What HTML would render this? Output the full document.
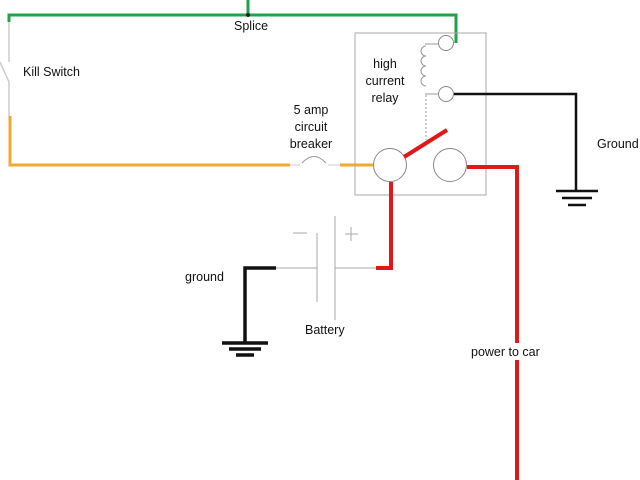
<!DOCTYPE html>
<html><head><style>body{margin:0;background:#fff}svg{display:block}text{font-family:"Liberation Sans",sans-serif;font-size:12.5px;fill:#111}</style></head><body>
<svg width="640" height="480" viewBox="0 0 640 480">
<g fill="none" stroke-linecap="butt">
<polyline points="9,22 9,15 456,15 456,43" stroke="#1fa34a" stroke-width="3"/>
<line x1="248" y1="0" x2="248" y2="15" stroke="#1fa34a" stroke-width="3"/>
<circle cx="248" cy="15" r="2" fill="#222" stroke="none"/>
<line x1="9" y1="22" x2="9" y2="62" stroke="#ccc" stroke-width="1.5"/>
<line x1="0" y1="62" x2="9" y2="82" stroke="#ccc" stroke-width="1.5"/>
<line x1="9" y1="82" x2="9" y2="116" stroke="#ccc" stroke-width="1.5"/>
<polyline points="10,116 10,165 290,165" stroke="#f0a830" stroke-width="3"/>
<path d="M302,163 Q314,150 326,163" stroke="#999" stroke-width="1"/>
<line x1="290" y1="165" x2="300" y2="165" stroke="#ccc"/>
<line x1="328" y1="165" x2="340" y2="165" stroke="#ccc"/>
<line x1="340" y1="165" x2="373" y2="165" stroke="#f0a830" stroke-width="3"/>
<rect x="355" y="33" width="131" height="162" stroke="#aaa" stroke-width="1"/>
<circle cx="446" cy="43" r="7.5" stroke="#888"/>
<circle cx="446" cy="94" r="7.5" stroke="#888"/>
<line x1="425" y1="44" x2="438" y2="44" stroke="#999"/>
<line x1="425" y1="94" x2="438" y2="94" stroke="#999"/>
<path d="M426,46 a5,5 0 0 0 0,10 a5,5 0 0 0 0,10 a5,5 0 0 0 0,10 a5,5 0 0 0 0,10" stroke="#999"/>
<line x1="426" y1="95" x2="426" y2="140" stroke="#999" stroke-dasharray="2,2"/>
<circle cx="390" cy="165" r="16.5" stroke="#888"/>
<circle cx="450" cy="165" r="16.5" stroke="#888"/>
<line x1="404" y1="157" x2="447" y2="130" stroke="#e01818" stroke-width="4"/>
<polyline points="454,94 576,94 576,191" stroke="#111" stroke-width="2.5"/>
<line x1="556" y1="191" x2="598" y2="191" stroke="#111" stroke-width="2.5"/>
<line x1="562" y1="198" x2="592" y2="198" stroke="#111" stroke-width="2.5"/>
<line x1="568" y1="205" x2="586" y2="205" stroke="#111" stroke-width="2.5"/>
<polyline points="467,167 517,167 517,480" stroke="#e01818" stroke-width="4"/>
<polyline points="391,182 391,268 376,268" stroke="#e01818" stroke-width="4"/>
<line x1="276" y1="268" x2="317" y2="268" stroke="#aaa"/>
<line x1="335" y1="268" x2="376" y2="268" stroke="#aaa"/>
<line x1="317" y1="233" x2="317" y2="302" stroke="#aaa"/>
<line x1="335" y1="216" x2="335" y2="320" stroke="#aaa"/>
<line x1="293" y1="233" x2="307" y2="233" stroke="#aaa"/>
<line x1="345" y1="234" x2="358" y2="234" stroke="#aaa"/>
<line x1="351" y1="227" x2="351" y2="241" stroke="#aaa"/>
<polyline points="276,268 245,268 245,343" stroke="#111" stroke-width="3.5"/>
<line x1="222" y1="343" x2="268" y2="343" stroke="#111" stroke-width="3.5"/>
<line x1="229" y1="349" x2="261" y2="349" stroke="#111" stroke-width="3.5"/>
<line x1="236" y1="355" x2="254" y2="355" stroke="#111" stroke-width="3.5"/>
</g>
<rect x="505" y="343" width="24" height="17" fill="#fff"/>
<text x="234" y="30">Splice</text>
<text x="23" y="76">Kill Switch</text>
<text x="385" y="68" text-anchor="middle">high</text>
<text x="385" y="85" text-anchor="middle">current</text>
<text x="385" y="102" text-anchor="middle">relay</text>
<text x="311" y="114" text-anchor="middle">5 amp</text>
<text x="311" y="131" text-anchor="middle">circuit</text>
<text x="311" y="148" text-anchor="middle">breaker</text>
<text x="597" y="148">Ground</text>
<text x="185" y="281">ground</text>
<text x="305" y="334">Battery</text>
<text x="471" y="356">power to car</text>
</svg>
</body></html>
